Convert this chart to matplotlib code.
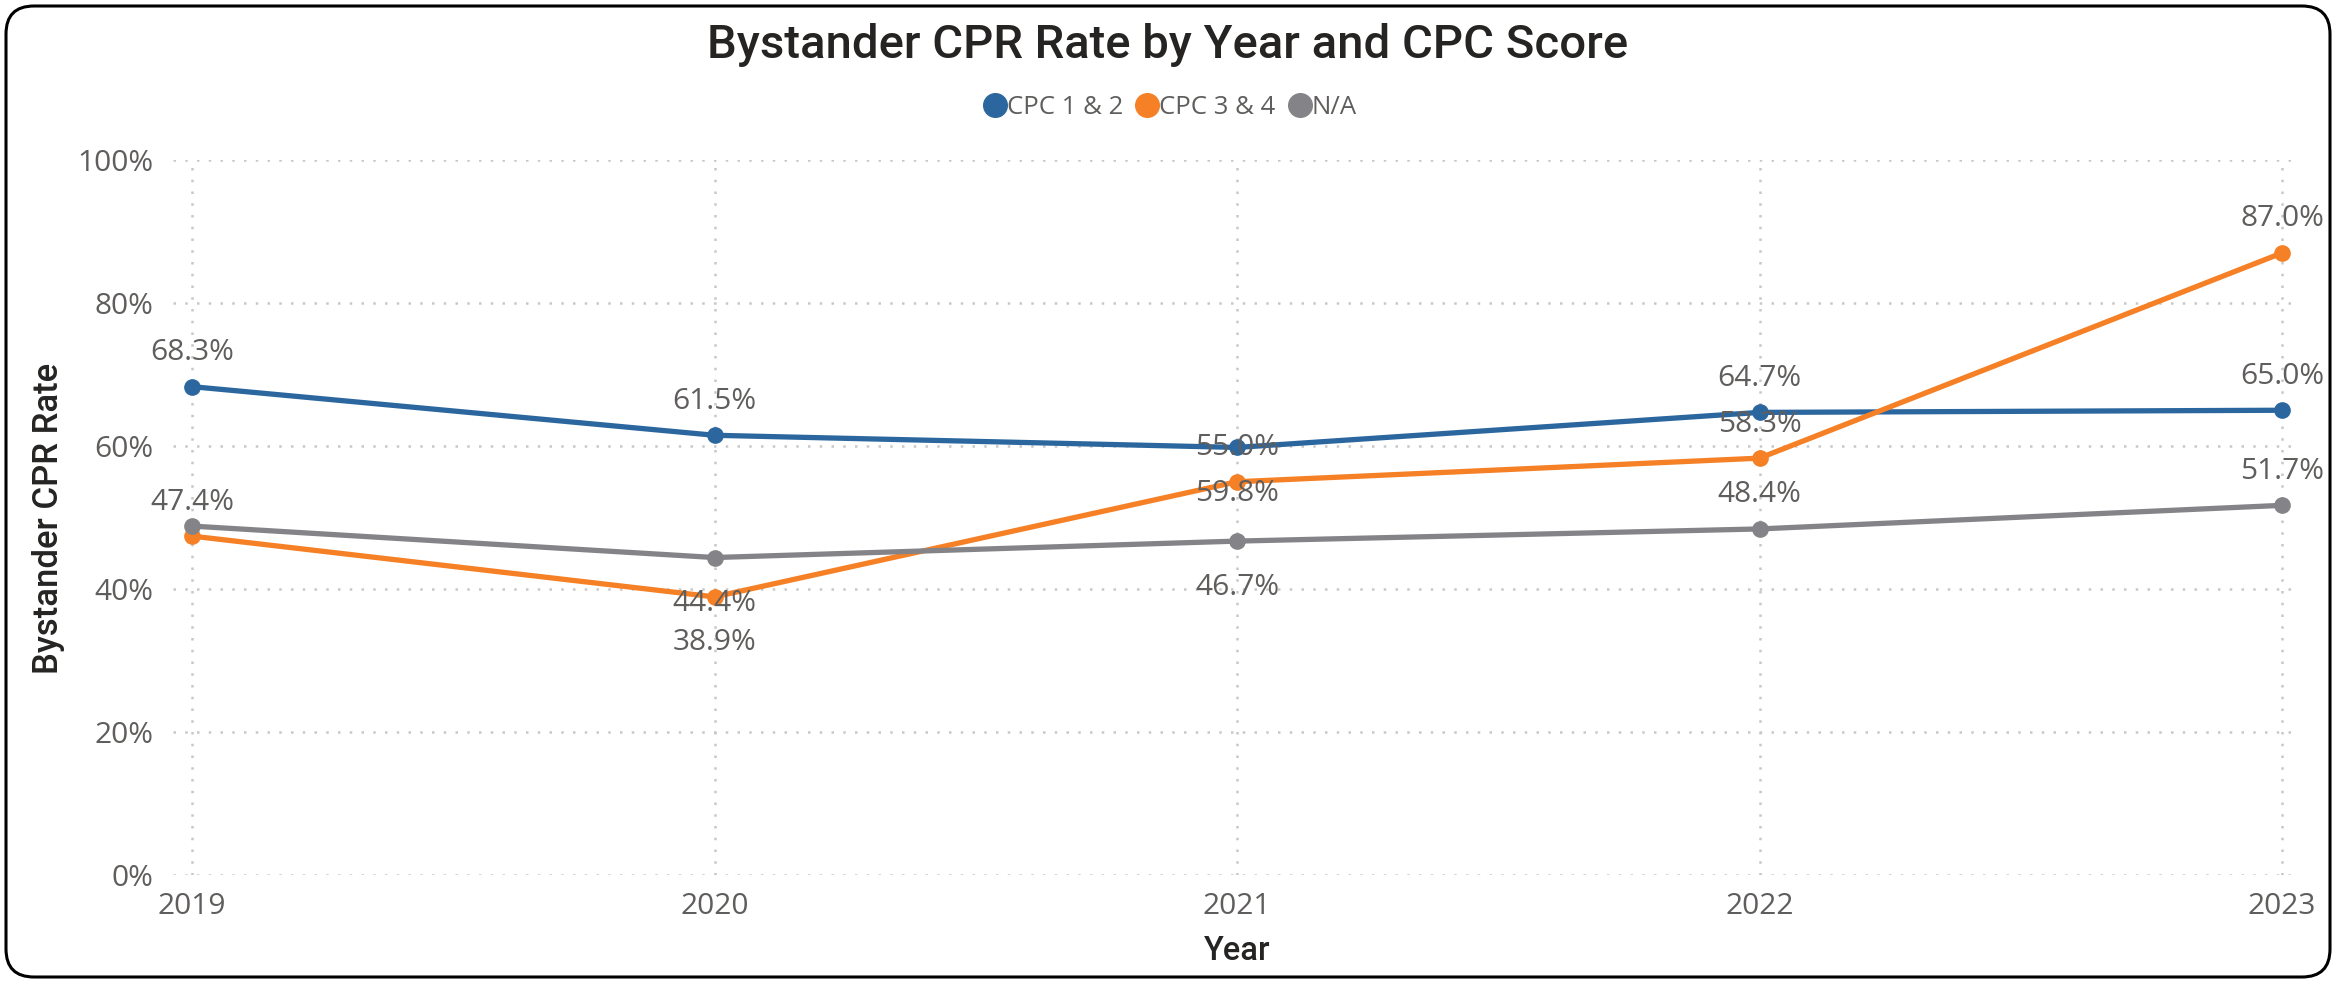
import matplotlib
matplotlib.use("Agg")
import matplotlib.pyplot as plt
from matplotlib.patches import FancyBboxPatch
from matplotlib.transforms import IdentityTransform
from matplotlib.lines import Line2D

years = ["2019", "2020", "2021", "2022", "2023"]
cpc12 = [68.3, 61.5, 59.8, 64.7, 65.0]
cpc34 = [47.4, 38.9, 55.0, 58.3, 87.0]
na = [48.8, 44.4, 46.7, 48.4, 51.7]
series_names = ["CPC 1 & 2", "CPC 3 & 4", "N/A"]
series_values = [cpc12, cpc34, na]
colors = ["#2B679E", "#F58025", "#848488"]
# label placement per point: 'a' above, 'b' below, None hidden (style only)
placements = [
    ["a", "a", "b", "a", "a"],
    ["a", "b", "a", "a", "a"],
    [None, "b", "b", "a", "a"],
]

W, H = 2336, 983
fig = plt.figure(figsize=(W / 100, H / 100), dpi=100)

def fx(px):
    return px / W

def fy(py):
    return 1 - py / H

left, right, top, bottom = 173, 2300, 160, 875
ax = fig.add_axes([fx(left), fy(bottom), fx(right) - fx(left), fy(top) - fy(bottom)])

x = list(range(len(years)))
pxu = (2282 - 192) / 4
ax.set_xlim(-(192 - left) / pxu, 4 + (right - 2282) / pxu)
ax.set_ylim(0, 100)

for sp in ax.spines.values():
    sp.set_visible(False)

grid_kw = dict(color="#C8C8C8", linewidth=1.8, linestyle=(0, (1, 3.7)), zorder=0)
for yv in range(0, 101, 20):
    ax.axhline(yv, **grid_kw)
for xv in x:
    ax.plot([xv, xv], [0, 100], **grid_kw)

ax.set_yticks(range(0, 101, 20))
ax.set_yticklabels([f"{v}%" for v in range(0, 101, 20)])
ax.set_xticks(x)
ax.set_xticklabels(years)
ax.tick_params(axis="both", length=0, labelsize=21.5, labelcolor="#605E5C")
ax.tick_params(axis="y", pad=14)
ax.tick_params(axis="x", pad=12)
for lab in ax.get_xticklabels() + ax.get_yticklabels():
    lab.set_fontfamily("Open Sans")

z = 3
for name, vals, col, plc in zip(series_names, series_values, colors, placements):
    ax.plot(x, vals, color=col, linewidth=3.8, marker="o", markersize=11,
            solid_capstyle="round", zorder=z, clip_on=False)
    for xi, v, p in zip(x, vals, plc):
        if p is None:
            continue
        off = 34 if p == "a" else -46
        ax.annotate(f"{v:.1f}%", (xi, v), xytext=(0, off), textcoords="offset pixels",
                    ha="center", va="center", fontsize=21.5, color="#605E5C",
                    family="Open Sans", zorder=10)
    z += 1

fig.text(0.5, fy(45), "Bystander CPR Rate by Year and CPC Score", ha="center", va="center",
         fontsize=34, fontweight="medium", family="Roboto", color="#252423")

handles = [Line2D([], [], color=c, marker="o", linestyle="none", markersize=17) for c in colors]
leg = fig.legend(handles, series_names, loc="center", bbox_to_anchor=(0.5, fy(107)),
                 ncol=3, frameon=False, handletextpad=-0.15, columnspacing=0.35,
                 prop={"family": "Open Sans", "size": 18.5}, handlelength=1.2)
for t in leg.get_texts():
    t.set_color("#605E5C")

fig.text(fx(49), fy(518), "Bystander CPR Rate", rotation=90, ha="center", va="center",
         fontsize=25, fontweight="medium", family="Roboto", color="#252423")
fig.text(fx(1237), fy(951), "Year", ha="center", va="center",
         fontsize=23.5, fontweight="medium", family="Roboto", color="#252423")

border = FancyBboxPatch((6, 6), W - 12, H - 12, boxstyle="round,pad=0,rounding_size=28",
                        transform=IdentityTransform(), facecolor="none",
                        edgecolor="black", linewidth=2.2)
fig.patches.append(border)

fig.savefig("out.png", dpi=100)
